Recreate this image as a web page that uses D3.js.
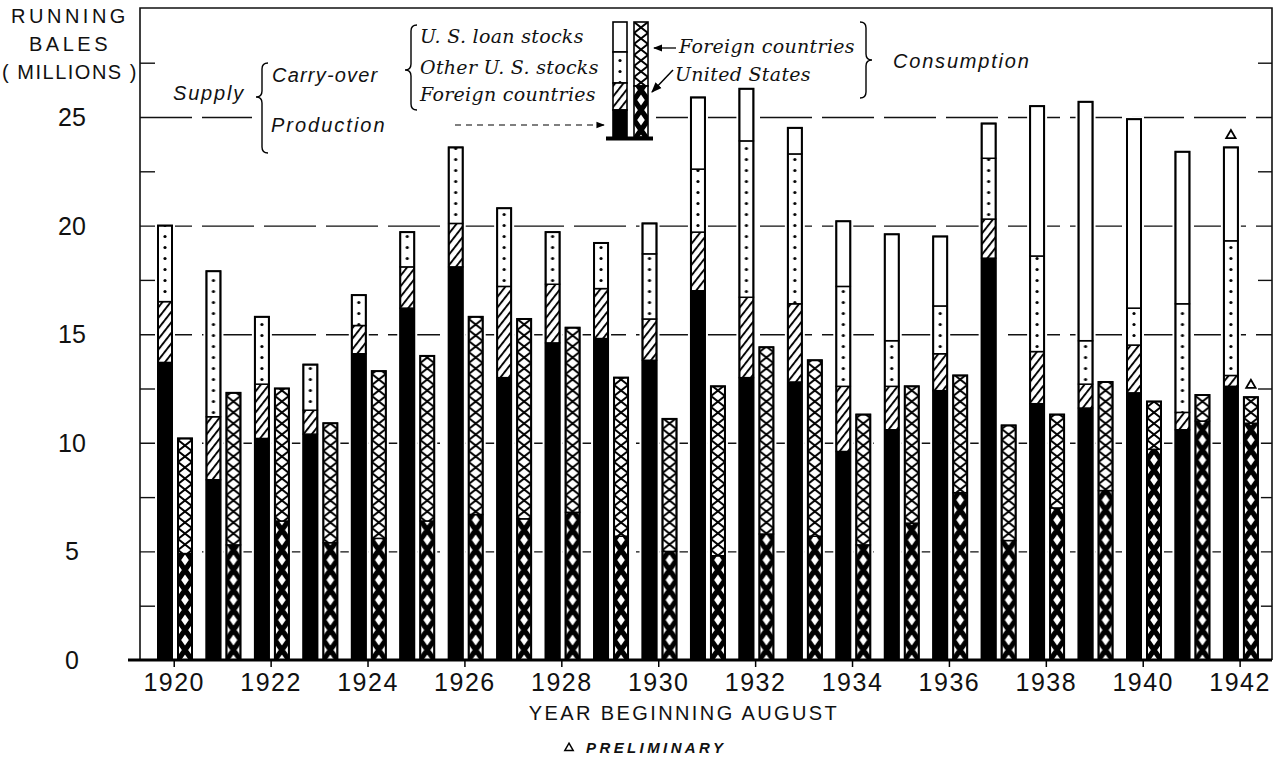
<!DOCTYPE html>
<html lang="en">
<head>
<meta charset="UTF-8" />
<title>Cotton supply and consumption</title>
<style>
  body { margin: 0; background: #fff; }
  text { fill: #111; }
</style>
</head>
<body>
<script src="https://d3js.org/d3.v7.min.js"></script>
<script>
// values in millions of running bales
const years = [1920, 1921, 1922, 1923, 1924, 1925, 1926, 1927, 1928, 1929, 1930, 1931,
  1932, 1933, 1934, 1935, 1936, 1937, 1938, 1939, 1940, 1941, 1942]
const production = [13.7, 8.3, 10.2, 10.4, 14.1, 16.2, 18.1, 13.0, 14.6, 14.8, 13.8, 17.0,
  13.0, 12.8, 9.6, 10.6, 12.4, 18.5, 11.8, 11.6, 12.3, 10.6, 12.6]
const carryForeign = [2.8, 2.9, 2.5, 1.1, 1.3, 1.9, 2.0, 4.2, 2.7, 2.3, 1.9, 2.7,
  3.7, 3.6, 3.0, 2.0, 1.7, 1.8, 2.4, 1.1, 2.2, 0.8, 0.5]
const carryOtherUS = [3.5, 6.7, 3.1, 2.1, 1.4, 1.6, 3.5, 3.6, 2.4, 2.1, 3.0, 2.9,
  7.2, 6.9, 4.6, 2.1, 2.2, 2.8, 4.4, 2.0, 1.7, 5.0, 6.2]
const carryLoanUS = [0, 0, 0, 0, 0, 0, 0, 0, 0, 0, 1.4, 3.3,
  2.4, 1.2, 3.0, 4.9, 3.2, 1.6, 6.9, 11.0, 8.7, 7.0, 4.3]
const consumptionUS = [4.9, 5.3, 6.4, 5.4, 5.6, 6.4, 6.7, 6.5, 6.8, 5.7, 5.0, 4.8,
  5.8, 5.7, 5.3, 6.3, 7.7, 5.5, 7.0, 7.8, 9.7, 11.0, 10.9]
const consumptionForeign = [5.3, 7.0, 6.1, 5.5, 7.7, 7.6, 9.1, 9.2, 8.5, 7.3, 6.1, 7.8,
  8.6, 8.1, 6.0, 6.3, 5.4, 5.3, 4.3, 5.0, 2.2, 1.2, 1.2]
const preliminary = [1942]
const yLabels = [0, 5, 10, 15, 20, 25]
const gridValues = [5, 10, 15, 20, 25]
const minorTicks = [2.5, 7.5, 12.5, 17.5, 22.5, 27.5]
const yearLabels = years.filter(d => d % 2 === 0)

const width = 1284
const height = 759
const sans = "'Liberation Sans', Arial, sans-serif"
const serif = "'DejaVu Serif', serif"
const frame = { left: 140, right: 1272, top: 8, bottom: 660 }

const svg = d3.select('body').append('svg')
  .attr('width', width).attr('height', height)

const x = d3.scaleBand().domain(years).range([150, 150 + years.length * 48.45])
const xs = d3.scaleBand().domain(['supply', 'consumption']).range([8, 42]).paddingInner(0.3)
const bw = xs.bandwidth()
const y = d3.scaleLinear().domain([0, 30]).range([frame.bottom, 8.4])

// patterns
const defs = svg.append('defs')
const pDots = defs.append('pattern').attr('id', 'dots')
  .attr('patternUnits', 'userSpaceOnUse').attr('width', bw).attr('height', 11)
pDots.append('rect').attr('width', bw).attr('height', 11).attr('fill', '#fff')
pDots.append('circle').attr('cx', bw / 2).attr('cy', 5.5).attr('r', 1.6).attr('fill', '#000')

const pHatch = defs.append('pattern').attr('id', 'hatch')
  .attr('patternUnits', 'userSpaceOnUse').attr('width', 6.5).attr('height', 6.5)
  .attr('patternTransform', 'rotate(38)')
pHatch.append('rect').attr('width', 6.5).attr('height', 6.5).attr('fill', '#fff')
pHatch.append('line').attr('x1', 1).attr('x2', 1).attr('y1', 0).attr('y2', 6.5)
  .attr('stroke', '#000').attr('stroke-width', 1.9)

function crossPattern(id, h, sw) {
  const p = defs.append('pattern').attr('id', id)
    .attr('patternUnits', 'userSpaceOnUse').attr('width', bw).attr('height', h)
  p.append('rect').attr('width', bw).attr('height', h).attr('fill', '#fff')
  p.append('path').attr('d', `M0,0L${bw},${h}M${bw},0L0,${h}`)
    .attr('stroke', '#000').attr('stroke-width', sw).attr('stroke-linecap', 'square')
}
crossPattern('xLight', 11, 2)
crossPattern('xHeavy', 20, 5.2)

// grid lines and ticks
svg.append('g')
  .attr('transform', `translate(${frame.left},0)`)
  .call(d3.axisLeft(y).tickValues(gridValues).tickSize(-(frame.right - frame.left)).tickFormat(''))
  .call(g => g.select('.domain').remove())
  .call(g => g.selectAll('line').attr('stroke', '#111').attr('stroke-width', 1.4)
    .attr('stroke-dasharray', '52 10'))

svg.append('g')
  .attr('transform', `translate(${frame.left},0)`)
  .call(d3.axisLeft(y).tickValues(minorTicks).tickSize(-15).tickFormat(''))
  .call(g => g.select('.domain').remove())
  .call(g => g.selectAll('line').attr('stroke', '#111').attr('stroke-width', 1.4))

svg.append('g')
  .attr('transform', `translate(${frame.right},0)`)
  .call(d3.axisRight(y).tickValues(minorTicks).tickSize(-14).tickFormat(''))
  .call(g => g.select('.domain').remove())
  .call(g => g.selectAll('line').attr('stroke', '#111').attr('stroke-width', 1.4))

// legend background hides the grid behind it
svg.append('rect').attr('x', 252).attr('y', 14).attr('width', 404).attr('height', 128).attr('fill', '#fff')

// stacks
const supplyTable = years.map((yr, i) => ({
  year: yr, production: production[i], foreign: carryForeign[i],
  other: carryOtherUS[i], loan: carryLoanUS[i]
}))
const consTable = years.map((yr, i) => ({
  year: yr, us: consumptionUS[i], foreign: consumptionForeign[i]
}))
const supplyStack = d3.stack().keys(['production', 'foreign', 'other', 'loan'])(supplyTable)
const consStack = d3.stack().keys(['us', 'foreign'])(consTable)
const fills = {
  production: '#000', foreign: 'url(#hatch)', other: 'url(#dots)', loan: '#fff',
  us: 'url(#xHeavy)'
}

const totals = [
  ...supplyTable.map(d => ({ year: d.year, kind: 'supply', top: d.production + d.foreign + d.other + d.loan })),
  ...consTable.map(d => ({ year: d.year, kind: 'consumption', top: d.us + d.foreign }))
]

// white halos so the grid stops short of each bar
svg.append('g').selectAll('rect').data(totals).join('rect')
  .attr('x', d => x(d.year) + xs(d.kind) - 3)
  .attr('y', d => y(d.top) - 3)
  .attr('width', bw + 6)
  .attr('height', d => y(0) - y(d.top) + 3)
  .attr('fill', '#fff')

function drawStack(stack, kind) {
  stack.forEach(series => {
    const fill = kind === 'consumption' && series.key === 'foreign' ? 'url(#xLight)' : fills[series.key]
    svg.append('g').selectAll('g')
      .data(series.filter(d => d[1] - d[0] > 0))
      .join('g')
      .attr('transform', d => `translate(${x(d.data.year) + xs(kind)},0)`)
      .append('rect')
      .attr('y', d => y(d[1]))
      .attr('width', bw)
      .attr('height', d => y(d[0]) - y(d[1]))
      .attr('fill', fill)
      .attr('stroke', '#000')
      .attr('stroke-width', 1.5)
  })
}
drawStack(supplyStack, 'supply')
drawStack(consStack, 'consumption')

svg.append('g').selectAll('rect').data(totals).join('rect')
  .attr('x', d => x(d.year) + xs(d.kind))
  .attr('y', d => y(d.top))
  .attr('width', bw)
  .attr('height', d => y(0) - y(d.top))
  .attr('fill', 'none')
  .attr('stroke', '#000')
  .attr('stroke-width', 2)

// preliminary markers
svg.append('g').selectAll('path')
  .data(totals.filter(d => preliminary.includes(d.year)))
  .join('path')
  .attr('d', d3.symbol(d3.symbolTriangle, 38))
  .attr('transform', d => `translate(${x(d.year) + xs(d.kind) + bw / 2},${y(d.top) - 12})`)
  .attr('fill', '#fff').attr('stroke', '#000').attr('stroke-width', 1.8)

// frame and base line
svg.append('path')
  .attr('d', `M${frame.left},${frame.bottom}V${frame.top}H${frame.right}V${frame.bottom}`)
  .attr('fill', 'none').attr('stroke', '#111').attr('stroke-width', 1.6)
svg.append('line')
  .attr('x1', 128).attr('x2', frame.right).attr('y1', y(0)).attr('y2', y(0))
  .attr('stroke', '#000').attr('stroke-width', 3.2)

// x axis
svg.append('g')
  .attr('transform', `translate(0,${y(0)})`)
  .call(d3.axisBottom(x).tickValues(yearLabels).tickSize(7).tickPadding(6))
  .call(g => g.select('.domain').remove())
  .call(g => g.selectAll('line').attr('stroke', '#000').attr('stroke-width', 1.5))
  .call(g => g.selectAll('text').attr('font-family', sans).attr('font-size', 25)
    .attr('letter-spacing', 1.5).attr('fill', '#111'))

// y labels
svg.append('g').selectAll('text').data(yLabels).join('text')
  .attr('x', 72).attr('y', d => y(d) + 9)
  .attr('text-anchor', 'middle')
  .attr('font-family', sans).attr('font-size', 25)
  .text(d => d)

const yTitle = [['RUNNING', 23, 3.5], ['BALES', 51, 3.5], ['( MILLIONS )', 79, 1.5]]
svg.append('g').selectAll('text').data(yTitle).join('text')
  .attr('x', 70).attr('y', d => d[1])
  .attr('text-anchor', 'middle')
  .attr('font-family', sans).attr('font-size', 20)
  .attr('letter-spacing', d => d[2])
  .text(d => d[0])

svg.append('text')
  .attr('x', 684).attr('y', 720)
  .attr('text-anchor', 'middle')
  .attr('font-family', sans).attr('font-size', 20).attr('letter-spacing', 2.4)
  .text('YEAR BEGINNING AUGUST')

svg.append('path')
  .attr('d', d3.symbol(d3.symbolTriangle, 30))
  .attr('transform', 'translate(569,748)')
  .attr('fill', '#fff').attr('stroke', '#000').attr('stroke-width', 1.5)
svg.append('text')
  .attr('x', 586).attr('y', 753)
  .attr('font-family', sans).attr('font-size', 15).attr('font-weight', 'bold')
  .attr('font-style', 'italic').attr('letter-spacing', 3.4)
  .text('PRELIMINARY')

// legend
function brace(xp, y1, ym, y2, w, dir) {
  const d = w * dir
  return `M${xp - d},${y1}Q${xp},${y1} ${xp},${y1 + w}L${xp},${ym - w}Q${xp},${ym} ${xp + d},${ym}` +
    `Q${xp},${ym} ${xp},${ym + w}L${xp},${y2 - w}Q${xp},${y2} ${xp - d},${y2}`
}
const legend = svg.append('g')
legend.selectAll('path.brace')
  .data([[262, 63, 97, 153, 6, -1], [411, 25, 70, 110, 6, -1], [866, 22, 60, 98, 6, 1]])
  .join('path')
  .attr('class', 'brace')
  .attr('d', d => brace(...d))
  .attr('fill', 'none').attr('stroke', '#000').attr('stroke-width', 1.4)

const sansLabels = [['Supply', 173, 100, 1.8], ['Carry-over', 272, 82, 1.2], ['Production', 271, 132, 2],
  ['Consumption', 893, 68, 1.8]]
legend.selectAll('text.sans').data(sansLabels).join('text')
  .attr('class', 'sans')
  .attr('x', d => d[1]).attr('y', d => d[2])
  .attr('font-family', sans).attr('font-style', 'italic').attr('font-size', 20)
  .attr('letter-spacing', d => d[3])
  .text(d => d[0])

const serifLabels = [['U. S. loan stocks', 420, 43], ['Other U. S. stocks', 420, 74],
  ['Foreign countries', 420, 101], ['Foreign countries', 679, 53], ['United States', 675, 81]]
legend.selectAll('text.serif').data(serifLabels).join('text')
  .attr('class', 'serif')
  .attr('x', d => d[1]).attr('y', d => d[2])
  .attr('font-family', serif).attr('font-style', 'italic').attr('font-size', 19)
  .attr('letter-spacing', 0.3)
  .text(d => d[0])

// legend sample bars
const sample = [
  { x: 613, y0: 22, y1: 52, fill: '#fff' }, { x: 613, y0: 52, y1: 83, fill: 'url(#dots)' },
  { x: 613, y0: 83, y1: 110, fill: 'url(#hatch)' }, { x: 613, y0: 110, y1: 137, fill: '#000' },
  { x: 634, y0: 22, y1: 86, fill: 'url(#xLight)' }, { x: 634, y0: 86, y1: 137, fill: 'url(#xHeavy)' }
]
legend.selectAll('g.sample').data(sample).join('g')
  .attr('class', 'sample')
  .attr('transform', d => `translate(${d.x},0)`)
  .append('rect')
  .attr('y', d => d.y0).attr('width', bw).attr('height', d => d.y1 - d.y0)
  .attr('fill', d => d.fill).attr('stroke', '#000').attr('stroke-width', 1.6)
legend.append('line').attr('x1', 606).attr('x2', 653).attr('y1', 138.5).attr('y2', 138.5)
  .attr('stroke', '#000').attr('stroke-width', 4)

// arrows
defs.append('marker').attr('id', 'head').attr('viewBox', '0 0 10 10')
  .attr('refX', 9).attr('refY', 5).attr('markerWidth', 7).attr('markerHeight', 7)
  .attr('orient', 'auto-start-reverse')
  .append('path').attr('d', 'M0,1L10,5L0,9Z').attr('fill', '#000')
legend.append('line').attr('x1', 455).attr('x2', 604).attr('y1', 125).attr('y2', 125)
  .attr('stroke', '#000').attr('stroke-width', 1.2).attr('stroke-dasharray', '6 5')
  .attr('marker-end', 'url(#head)')
legend.append('line').attr('x1', 676).attr('x2', 654).attr('y1', 48).attr('y2', 48)
  .attr('stroke', '#000').attr('stroke-width', 1.3).attr('marker-end', 'url(#head)')
legend.append('line').attr('x1', 673).attr('x2', 652).attr('y1', 70).attr('y2', 92)
  .attr('stroke', '#000').attr('stroke-width', 1.5).attr('marker-end', 'url(#head)')
</script>
</body>
</html>
